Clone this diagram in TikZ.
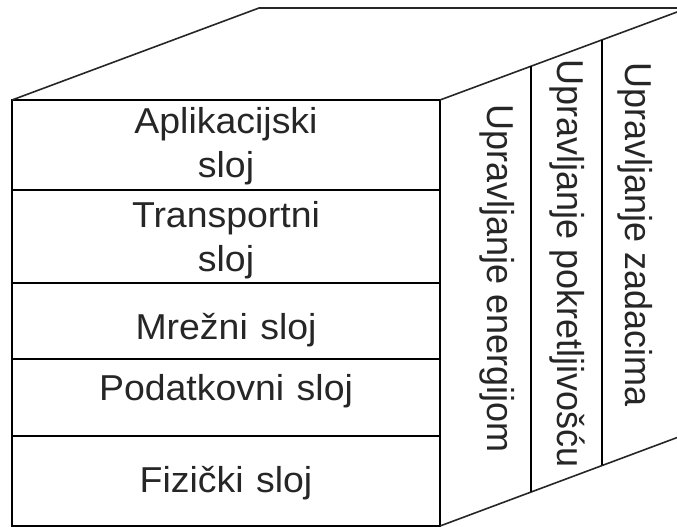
\documentclass[tikz,border=0pt]{standalone}
\usepackage{fontspec}
\setmainfont{Liberation Sans}
\begin{document}
\begin{tikzpicture}[x=1pt,y=-1pt,
  edge/.style={line width=1.8pt, draw=black},
  thin edge/.style={line width=1.6pt, draw=black!85},
  lbl/.style={font=\fontsize{36}{44}\selectfont, inner sep=0pt, text=black!85, xscale=1.04},
  layer/.style={lbl, text width=320pt, align=center, anchor=base},
  vlabel/.style={lbl, rotate=-90, anchor=base west}]
\useasboundingbox (0,0) rectangle (677,527);
\clip (0,0) rectangle (677,527);
% corners
\coordinate (FTL) at (12,100);
\coordinate (FTR) at (440,100);
\coordinate (FBL) at (12,526);
\coordinate (FBR) at (440,526);
\coordinate (BTL) at (259,8);
\coordinate (BTR) at (700,8);
\coordinate (RTE) at (700,3.5);
\coordinate (RBE) at (700,429);
% front face
\draw[edge] (FTL) rectangle (FBR);
\foreach \y/\n in {190/a,283/b,359/c,436/d}{
  \coordinate (L\n) at (12,\y);
  \coordinate (R\n) at (440,\y);
  \draw[edge] (L\n) -- (R\n);
}
% top and right faces
\draw[thin edge] (FTL) -- (BTL) -- (BTR);
\draw[thin edge] (FTR) -- (RTE);
\draw[thin edge] (FBR) -- (RBE);
% dividers on right face
\coordinate (D1t) at (531,66);
\coordinate (D1b) at (531,492);
\coordinate (D2t) at (602,40);
\coordinate (D2b) at (602,465);
\draw[edge] (D1t) -- (D1b);
\draw[edge] (D2t) -- (D2b);
% layer labels
\node[layer] (app) at (226,133) {Aplikacijski\\sloj};
\node[layer] (tra) at (226,227) {Transportni\\sloj};
\node[layer] (mre) at (226,339) {Mrežni sloj};
\node[layer] (pod) at (226,400) {Podatkovni sloj};
\node[layer] (fiz) at (226,492) {Fizički sloj};
% vertical labels
\node[vlabel] (ene) at (487,104) {Upravljanje energijom};
\node[vlabel] (pok) at (557,59) {Upravljanje pokretljivošću};
\node[vlabel] (zad) at (625,62) {Upravljanje zadacima};
\end{tikzpicture}
\end{document}
